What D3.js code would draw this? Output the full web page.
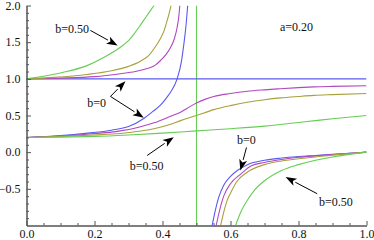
<!DOCTYPE html>
<html>
<head>
<meta charset="utf-8">
<script src="https://cdn.jsdelivr.net/npm/d3@7"></script>
<style>
  body { margin: 0; background: #fff; }
  svg text { font-family: "Liberation Serif", "Times New Roman", Times, "DejaVu Serif", serif !important; }
</style>
</head>
<body>
<div id="chart"></div>
<script>
// b values in the plot: 0 (blue), 0.1 (purple), 0.2 (olive), 0.5 (green)
const colors = ["#5a5af2", "#b048c0", "#a8a03c", "#66cc55"];

// upper branch (starts at y=1)
const upperX0 = [0, 1];
const upperY0 = [1, 1];
const upperX1 = [0, 0.1, 0.2, 0.276, 0.32, 0.355, 0.38, 0.394, 0.41, 0.424, 0.435, 0.443, 0.448, 0.451];
const upperY1 = [1, 1.01, 1.03, 1.07, 1.1, 1.14, 1.19, 1.25, 1.33, 1.43, 1.55, 1.7, 1.85, 2.0];
const upperX2 = [0, 0.08, 0.178, 0.25, 0.3, 0.335, 0.36, 0.375, 0.394, 0.405, 0.414, 0.42, 0.425];
const upperY2 = [1, 1.02, 1.06, 1.11, 1.17, 1.24, 1.32, 1.41, 1.55, 1.66, 1.8, 1.9, 2.0];
const upperX3 = [0, 0.1, 0.178, 0.227, 0.276, 0.3, 0.316, 0.33, 0.345, 0.36, 0.375];
const upperY3 = [1, 1.08, 1.18, 1.29, 1.43, 1.52, 1.61, 1.7, 1.8, 1.9, 2.0];

// middle branch (starts at y=a=0.2)
const middleX0 = [0, 0.1, 0.18, 0.25, 0.3, 0.345, 0.37, 0.394, 0.41, 0.424, 0.443, 0.455, 0.463, 0.469, 0.474];
const middleY0 = [0.2, 0.225, 0.26, 0.3, 0.35, 0.46, 0.55, 0.64, 0.73, 0.82, 1.0, 1.22, 1.48, 1.72, 2.0];
const middleX1 = [0, 0.1, 0.178, 0.276, 0.33, 0.375, 0.424, 0.453, 0.473, 0.5, 0.525, 0.551, 0.6, 0.649, 0.7, 0.747, 0.8, 0.845, 0.9, 1.0];
const middleY1 = [0.2, 0.22, 0.245, 0.29, 0.34, 0.4, 0.49, 0.545, 0.6, 0.67, 0.72, 0.76, 0.8, 0.83, 0.85, 0.865, 0.88, 0.89, 0.897, 0.905];
const middleX2 = [0, 0.1, 0.2, 0.276, 0.33, 0.375, 0.424, 0.453, 0.5, 0.551, 0.6, 0.649, 0.7, 0.747, 0.8, 0.845, 0.9, 1.0];
const middleY2 = [0.2, 0.215, 0.235, 0.255, 0.285, 0.32, 0.38, 0.43, 0.5, 0.58, 0.635, 0.68, 0.715, 0.74, 0.76, 0.775, 0.785, 0.8];
const middleX3 = [0, 0.1, 0.2, 0.3, 0.4, 0.5, 0.6, 0.7, 0.8, 0.85, 0.9, 1.0];
const middleY3 = [0.2, 0.205, 0.215, 0.235, 0.26, 0.29, 0.32, 0.355, 0.405, 0.43, 0.455, 0.5];

// lower branch (comes up from below, ends at 0)
const lowerX0 = [0.546, 0.555, 0.565, 0.58, 0.6, 0.62, 0.65, 0.7, 0.75, 0.8, 0.85, 0.9, 0.95, 1.0];
const lowerY0 = [-1, -0.8, -0.62, -0.45, -0.33, -0.25, -0.17, -0.11, -0.08, -0.06, -0.045, -0.03, -0.015, 0];
const lowerX1 = [0.558, 0.565, 0.58, 0.6, 0.63, 0.66, 0.7, 0.75, 0.8, 0.85, 0.9, 0.95, 1.0];
const lowerY1 = [-1, -0.85, -0.6, -0.43, -0.3, -0.19, -0.14, -0.1, -0.07, -0.05, -0.033, -0.016, 0];
const lowerX2 = [0.571, 0.58, 0.59, 0.6, 0.617, 0.65, 0.7, 0.75, 0.8, 0.85, 0.9, 0.95, 1.0];
const lowerY2 = [-1, -0.82, -0.66, -0.56, -0.41, -0.27, -0.17, -0.12, -0.09, -0.065, -0.04, -0.02, 0];
const lowerX3 = [0.615, 0.63, 0.649, 0.67, 0.7, 0.75, 0.8, 0.85, 0.9, 0.95, 1.0];
const lowerY3 = [-1, -0.82, -0.66, -0.52, -0.39, -0.25, -0.17, -0.11, -0.065, -0.03, 0];

// green (b=0.5) jump at x=0.5
const jumpX = [0.5, 0.5];
const jumpY = [-1, 2];

const xTicks = [0, 0.2, 0.4, 0.6, 0.8, 1.0];
const xTickLabels = ["0.0", "0.2", "0.4", "0.6", "0.8", "1.0"];
const yTicks = [-0.5, 0, 0.5, 1.0, 1.5, 2.0];
const yTickLabels = ["\u22120.5", "0.0", "0.5", "1.0", "1.5", "2.0"];

const width = 374, height = 240;
const serif = "'Liberation Serif', 'Times New Roman', Times, 'DejaVu Serif', serif";

const svg = d3.select("#chart").append("svg")
  .attr("width", width)
  .attr("height", height)
  .attr("font-family", serif);

const x = d3.scaleLinear().domain([0, 1]).range([26.5, 366.5]);
const y = d3.scaleLinear().domain([-1, 2]).range([225.5, 5.5]);

// clip curves to plot range
svg.append("clipPath").attr("id", "plotclip")
  .append("rect")
  .attr("x", x(0)).attr("y", y(2))
  .attr("width", x(1) - x(0)).attr("height", y(-1) - y(2));

const zipPts = (xs, ys) => xs.map((v, i) => [v, ys[i]]);

const series = [
  { c: 0, pts: zipPts(upperX0, upperY0) },
  { c: 1, pts: zipPts(upperX1, upperY1) },
  { c: 2, pts: zipPts(upperX2, upperY2) },
  { c: 3, pts: zipPts(upperX3, upperY3) },
  { c: 0, pts: zipPts(middleX0, middleY0) },
  { c: 1, pts: zipPts(middleX1, middleY1) },
  { c: 2, pts: zipPts(middleX2, middleY2) },
  { c: 3, pts: zipPts(middleX3, middleY3) },
  { c: 0, pts: zipPts(lowerX0, lowerY0) },
  { c: 1, pts: zipPts(lowerX1, lowerY1) },
  { c: 2, pts: zipPts(lowerX2, lowerY2) },
  { c: 3, pts: zipPts(lowerX3, lowerY3) }
];

const line = d3.line()
  .x(d => x(d[0]))
  .y(d => y(d[1]))
  .curve(d3.curveMonotoneX);

const plot = svg.append("g").attr("clip-path", "url(#plotclip)");

plot.append("path")
  .attr("d", d3.line().x(d => x(d[0])).y(d => y(d[1]))(zipPts(jumpX, jumpY)))
  .attr("fill", "none")
  .attr("stroke", colors[3])
  .attr("stroke-width", 1.1);

plot.selectAll("path.curve")
  .data(series)
  .join("path")
  .attr("class", "curve")
  .attr("d", d => line(d.pts))
  .attr("fill", "none")
  .attr("stroke", d => colors[d.c])
  .attr("stroke-width", 1.1);

// Axes (Mathematica style: ticks pointing inward)
const axisColor = "#555";

const xAxis = svg.append("g").attr("transform", `translate(0,${y(-1)})`);
xAxis.call(d3.axisBottom(x)
  .tickValues(d3.range(0.05, 1.0, 0.05).filter(v => Math.abs(v * 5 - Math.round(v * 5)) > 1e-6))
  .tickSizeInner(-2.5).tickSizeOuter(0).tickFormat(""));
xAxis.append("g").call(d3.axisBottom(x)
  .tickValues(xTicks)
  .tickSizeInner(-4.5).tickSizeOuter(0).tickPadding(4)
  .tickFormat((d, i) => xTickLabels[i]));

const yAxis = svg.append("g").attr("transform", `translate(${x(0)},0)`);
yAxis.call(d3.axisLeft(y)
  .tickValues(d3.range(-0.9, 2.0, 0.1).filter(v => Math.abs(v * 2 - Math.round(v * 2)) > 1e-6))
  .tickSizeInner(-2.5).tickSizeOuter(0).tickFormat(""));
yAxis.append("g").call(d3.axisLeft(y)
  .tickValues(yTicks)
  .tickSizeInner(-4.5).tickSizeOuter(0).tickPadding(6)
  .tickFormat((d, i) => yTickLabels[i]));

svg.selectAll(".domain, .tick line").attr("stroke", axisColor);
svg.selectAll("g[font-family]").attr("font-family", serif).attr("font-size", 12);
svg.selectAll(".tick text").attr("fill", "#111");
yAxis.selectAll(".tick text").attr("dy", "0.3em");

// annotations (data coordinates)
const ann = svg.append("g");

function label(txt, dx, dy) {
  ann.append("text")
    .attr("x", x(dx)).attr("y", y(dy))
    .attr("text-anchor", "middle")
    .attr("font-size", 12)
    .attr("fill", "#111")
    .text(txt);
}

function arrow(x1, y1, x2, y2) {
  const px1 = x(x1), py1 = y(y1), px2 = x(x2), py2 = y(y2);
  const ang = Math.atan2(py2 - py1, px2 - px1);
  const len = 11, hw = 4;
  const bx = px2 - len * Math.cos(ang), by = py2 - len * Math.sin(ang);
  ann.append("line")
    .attr("x1", px1).attr("y1", py1).attr("x2", bx).attr("y2", by)
    .attr("stroke", "#000").attr("stroke-width", 1);
  const nx = -Math.sin(ang) * hw, ny = Math.cos(ang) * hw;
  ann.append("path")
    .attr("d", `M${px2},${py2}L${bx + nx},${by + ny}L${bx + len * 0.25 * Math.cos(ang)},${by + len * 0.25 * Math.sin(ang)}L${bx - nx},${by - ny}Z`)
    .attr("fill", "#000");
}

label("b=0.50", 0.134, 1.63);
arrow(0.188, 1.66, 0.268, 1.455);

label("a=0.20", 0.794, 1.646);

label("b=0", 0.206, 0.61);
arrow(0.247, 0.76, 0.291, 0.968);
arrow(0.247, 0.76, 0.345, 0.469);

label("b=0.50", 0.353, -0.24);
arrow(0.355, -0.045, 0.433, 0.205);

label("b=0", 0.647, 0.105);
arrow(0.647, 0.064, 0.629, -0.25);

label("b=0.50", 0.91, -0.74);
arrow(0.855, -0.567, 0.762, -0.34);
</script>
</body>
</html>
